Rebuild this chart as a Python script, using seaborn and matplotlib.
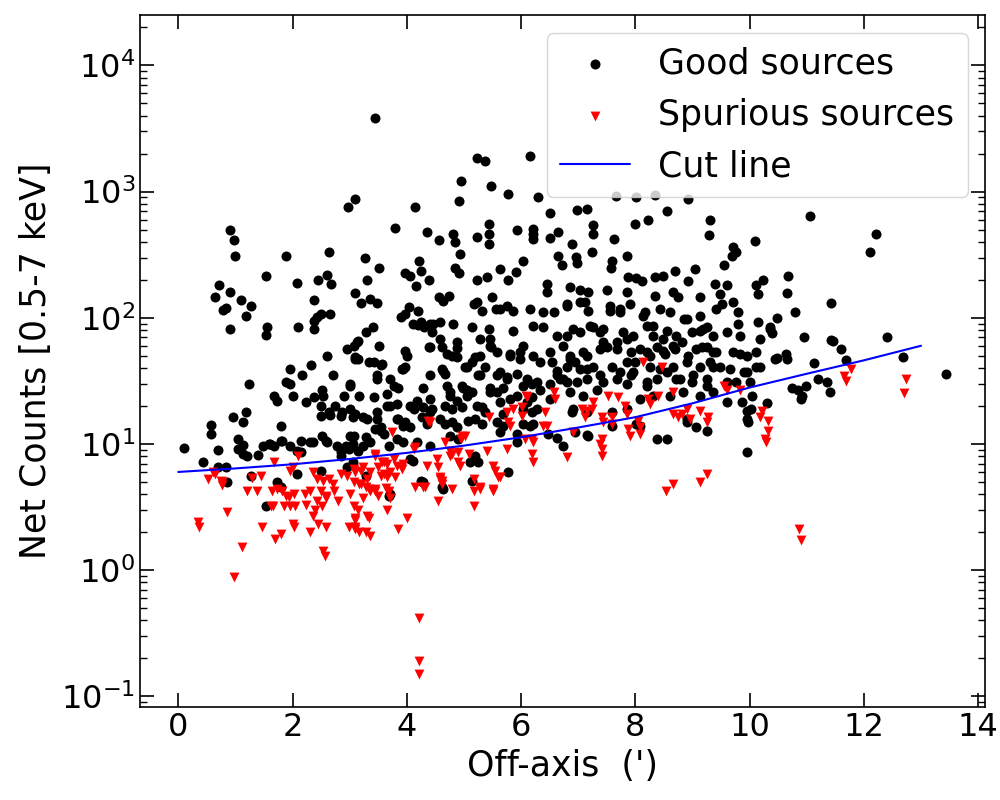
import numpy as np
import pandas as pd
import matplotlib
matplotlib.use('Agg')
import matplotlib.pyplot as plt
import seaborn as sns

# off-axis angle (arcmin), net counts 0.5-7 keV
good_sources = [
    (0.10, 9.3), (0.43, 7.2), (0.58, 14.1), (0.58, 12.0), (0.69, 8.9), (0.69, 6.6), (0.83, 6.6), (0.86, 5.0),
    (0.64, 147), (0.71, 182), (0.83, 120), (0.79, 116), (0.91, 161), (0.91, 81), (0.90, 500), (0.97, 417),
    (1.00, 310), (0.95, 16.3),
    (1.09, 138), (1.19, 104), (1.28, 124), (1.23, 30), (1.53, 215), (1.56, 85), (1.53, 73), (1.88, 310),
    (1.13, 15.0), (1.18, 17.9), (1.04, 11.0), (1.13, 9.8), (1.04, 9.1), (1.14, 8.3), (1.40, 8.2), (1.49, 9.6),
    (1.58, 10.0), (1.67, 9.6), (1.79, 10.6), (1.79, 13.9), (1.27, 5.6), (1.73, 5.0), (1.53, 3.2), (1.67, 24),
    (1.72, 22), (1.88, 31), (1.95, 30), (1.96, 39), (1.21, 8.0), (1.61, 10.0), (1.82, 10.6), (1.79, 4.6),
    (2.07, 189), (2.10, 85), (2.37, 138), (2.37, 81), (2.42, 102), (2.50, 107), (2.45, 200), (2.60, 220),
    (2.68, 185), (2.65, 107), (2.63, 334), (2.60, 50), (2.33, 42), (2.16, 35), (2.71, 35), (2.97, 760),
    (2.37, 94), (2.52, 27), (2.54, 24), (2.90, 24), (3.00, 29), (2.00, 24), (2.23, 21.5), (2.37, 23.6),
    (2.75, 20), (2.87, 17.9), (3.01, 19), (3.05, 16.3), (2.49, 16.7), (2.65, 17), (2.08, 8.8), (2.14, 10.6),
    (2.35, 10.4), (2.52, 11.6), (2.61, 10.4), (2.78, 9.6), (2.84, 8.6), (2.98, 9.1), (3.07, 11.6), (1.96, 9.6),
    (2.49, 20), (2.63, 17.9), (2.93, 9.6), (2.84, 8.0), (2.84, 16.7), (2.31, 10.4), (2.58, 10.6), (2.14, 8.6),
    (3.05, 7.2), (2.96, 6.6), (2.49, 6.1), (2.08, 5.8), (2.96, 57), (3.07, 60), (3.10, 47),
    (3.09, 870), (3.44, 3800), (3.27, 300), (3.09, 158), (3.19, 130), (3.31, 200), (3.36, 141), (3.47, 130),
    (3.52, 250), (3.40, 85), (3.29, 77), (3.13, 64), (3.10, 49), (3.33, 45), (3.43, 45), (3.54, 42),
    (3.47, 35), (3.52, 60), (3.71, 33), (3.77, 29), (3.79, 510), (3.97, 225), (3.96, 107), (3.89, 102),
    (3.14, 65), (3.97, 55), (3.14, 47), (3.57, 43), (3.94, 39), (3.01, 30), (3.48, 33), (3.85, 28),
    (3.16, 24), (3.42, 23.6), (3.66, 25), (3.71, 20), (3.10, 17.3), (3.24, 16.3), (3.48, 15.8), (3.54, 13.6),
    (3.83, 15.8), (3.97, 15.0), (3.01, 11.6), (3.28, 11.3), (3.60, 12.0), (3.83, 11.0), (3.94, 10.4), (3.05, 10.0),
    (3.14, 8.8), (3.36, 10.4), (3.68, 9.6), (3.71, 4.0), (3.24, 9.6), (3.31, 15.8), (3.48, 17.9), (3.66, 20),
    (3.45, 13.1), (3.54, 12.7), (3.83, 20.8), (3.85, 15.8), (3.94, 13.9), (3.28, 5.6), (3.68, 3.9), (3.92, 39),
    (3.96, 41),
    (4.15, 750), (4.35, 480), (4.57, 417), (4.81, 460), (4.85, 395), (4.92, 850), (4.95, 1220), (4.93, 320),
    (4.85, 250), (4.92, 225), (4.22, 280), (4.25, 235), (4.06, 215), (4.16, 180), (4.38, 200), (4.03, 122),
    (4.20, 113), (4.20, 88), (4.30, 85), (4.40, 90), (4.57, 147), (4.64, 137), (4.74, 150), (4.81, 89),
    (4.44, 77), (4.58, 68), (4.38, 59), (4.62, 59), (4.71, 52), (4.79, 50), (4.88, 58), (4.87, 49),
    (4.00, 50), (4.41, 35), (4.64, 38), (4.29, 28), (4.71, 29), (4.76, 26), (4.97, 29), (4.10, 89),
    (4.24, 93), (4.46, 89), (4.58, 93), (4.41, 59), (4.88, 64), (4.62, 39), (4.67, 36), (4.99, 28),
    (4.76, 24), (4.06, 20), (4.18, 22), (4.29, 19.7), (4.41, 22.7), (4.44, 19), (4.67, 20), (4.79, 19),
    (4.88, 22), (4.97, 19.7), (4.06, 13.6), (4.27, 16.3), (4.35, 14.4), (4.58, 15.8), (4.67, 14.4), (4.79, 15),
    (4.88, 13.6), (4.18, 10.4), (4.41, 9.6), (4.76, 11.6), (4.90, 11.0), (4.10, 7.3), (4.24, 5.1), (4.62, 4.6),
    (4.12, 19), (4.41, 17.9), (4.06, 7.6), (4.29, 5.0), (4.64, 4.4),
    (5.22, 440), (5.23, 1850), (5.37, 1750), (5.47, 1100), (5.44, 550), (5.43, 460), (5.44, 385), (5.23, 200),
    (5.40, 210), (5.14, 85), (5.17, 128), (5.23, 133), (5.32, 113), (5.49, 147), (5.44, 81), (5.46, 68),
    (5.48, 59), (5.56, 117), (5.06, 41), (5.14, 45), (5.20, 49), (5.28, 50), (5.37, 41), (5.28, 35),
    (5.06, 27), (5.14, 26), (5.46, 26), (5.77, 960), (5.93, 500), (5.63, 245), (5.77, 200), (5.91, 230),
    (5.63, 118), (5.75, 125), (5.86, 113), (5.86, 79), (5.81, 50), (5.98, 47), (5.63, 37), (5.75, 33),
    (5.28, 68), (5.46, 60), (5.58, 54), (5.81, 52), (5.98, 54), (5.02, 41), (5.25, 35), (5.58, 35),
    (5.75, 34), (5.93, 36), (5.46, 28), (5.58, 26), (5.69, 28), (5.81, 22.7), (5.93, 24), (5.06, 24),
    (5.23, 20), (5.32, 19.7), (5.37, 17.9), (5.63, 21.5), (5.69, 17.3), (5.07, 15.2), (5.20, 15.8), (5.32, 14.4),
    (5.58, 15.0), (5.69, 13.9), (5.20, 8.0), (5.25, 7.2), (5.11, 7.2), (5.93, 10.4), (5.77, 6.0), (5.14, 5.1),
    (5.63, 12.4), (5.93, 12.0),
    (6.16, 1900), (6.30, 900), (6.51, 680), (6.21, 505), (6.21, 460), (6.21, 420), (6.51, 430), (6.65, 480),
    (6.98, 720), (6.04, 280), (6.45, 185), (6.45, 160), (6.16, 118), (6.86, 175), (6.80, 128), (6.57, 111),
    (6.21, 86), (6.39, 85), (6.04, 60), (6.63, 72), (6.80, 72), (6.86, 50), (6.94, 45), (6.51, 54),
    (6.54, 45), (6.21, 50), (6.33, 45), (6.10, 33), (6.28, 31), (6.63, 35), (6.80, 31), (6.89, 385),
    (6.65, 310), (6.72, 260), (6.96, 305), (6.98, 270), (6.39, 111), (6.04, 29), (6.19, 30), (6.33, 27),
    (6.51, 30), (6.63, 38), (6.68, 33), (6.10, 21.5), (6.19, 23.6), (6.04, 19), (6.19, 17.9), (6.28, 19),
    (6.51, 22.7), (6.04, 14.4), (6.16, 13.9), (6.21, 14.4), (6.47, 12.0), (6.63, 11.1), (6.74, 9.6), (6.89, 17.9),
    (6.94, 12.4), (6.80, 125), (6.74, 60), (6.86, 47), (6.74, 33), (6.98, 31), (6.86, 26), (6.91, 19),
    (6.91, 81), (6.80, 41),
    (7.15, 730), (7.66, 930), (7.26, 540), (7.26, 460), (7.24, 330), (7.63, 420), (7.86, 310), (7.60, 280),
    (7.58, 250), (7.87, 210), (7.03, 165), (7.17, 160), (7.12, 133), (7.17, 113), (7.50, 165), (7.85, 160),
    (7.90, 128), (7.03, 77), (7.26, 85), (7.44, 81), (7.56, 113), (7.73, 111), (7.38, 57), (7.50, 59),
    (7.68, 64), (7.85, 68), (7.93, 54), (7.99, 45), (7.15, 50), (7.15, 39), (7.38, 35), (7.73, 37),
    (7.93, 35), (7.15, 11.8), (7.60, 13.9), (7.03, 133), (7.56, 125), (7.73, 118), (7.21, 86), (7.38, 77),
    (7.78, 77), (7.96, 72), (7.08, 54), (7.44, 64), (7.68, 57), (7.03, 39), (7.26, 41), (7.60, 41),
    (7.85, 45), (7.96, 37), (7.15, 33), (7.44, 31), (7.68, 33), (7.85, 30), (7.08, 24), (7.33, 27),
    (7.15, 17.9), (7.60, 17.9), (7.85, 19), (7.17, 11.6),
    (8.01, 910), (8.34, 940), (8.92, 875), (7.99, 550), (8.22, 600), (8.55, 700), (8.02, 205), (8.12, 195),
    (8.34, 210), (8.48, 215), (8.69, 235), (8.92, 197), (8.34, 150), (8.66, 160), (8.74, 147), (8.17, 111),
    (8.20, 86), (8.31, 86), (8.55, 79), (8.86, 98), (8.20, 54), (8.38, 59), (8.52, 52), (8.66, 60),
    (8.81, 64), (8.92, 50), (8.55, 37), (8.72, 33), (8.20, 29), (8.55, 11.0), (8.38, 11.0), (8.02, 14.4),
    (8.90, 15.8), (8.13, 104), (8.43, 118), (8.61, 111), (8.90, 98), (8.31, 72), (8.48, 68), (8.72, 72),
    (8.08, 57), (8.25, 50), (8.48, 55), (8.69, 57), (8.25, 41), (8.43, 39), (8.66, 41), (8.90, 45),
    (8.20, 31), (8.38, 33), (8.78, 33), (8.08, 22.7), (8.31, 24), (8.61, 24), (8.84, 26), (8.08, 13.9),
    (8.90, 15.0),
    (9.04, 245), (9.30, 600), (9.29, 455), (9.71, 365), (9.77, 335), (9.69, 310), (9.56, 260), (9.39, 185),
    (9.60, 183), (9.13, 147), (9.48, 155), (9.51, 128), (9.79, 111), (9.79, 89), (9.13, 79), (9.25, 85),
    (9.60, 77), (9.07, 57), (9.16, 59), (9.36, 41), (9.01, 35), (9.25, 29), (9.60, 31), (9.91, 37),
    (9.83, 52), (9.71, 54), (9.36, 54), (9.60, 21.5), (9.95, 18.3), (9.98, 15.0), (9.95, 8.6), (9.25, 12.7),
    (9.07, 13.6), (9.13, 104), (9.42, 118), (9.71, 133), (9.00, 77), (9.18, 81), (9.36, 72), (9.83, 72),
    (9.25, 59), (9.42, 54), (9.95, 50), (9.13, 41), (9.30, 45), (9.48, 41), (9.65, 39), (9.95, 37),
    (9.00, 31), (9.25, 33), (9.77, 31), (9.13, 24), (9.36, 26), (9.86, 21.5), (9.95, 15.8),
    (10.10, 405), (10.12, 183), (10.23, 200), (10.15, 155), (10.67, 215), (10.65, 157), (10.79, 111), (11.43, 131),
    (10.15, 93), (10.48, 100), (10.35, 85), (10.40, 76), (12.40, 70), (11.43, 67), (11.60, 57), (10.95, 70),
    (10.63, 52), (10.65, 47), (10.48, 48), (11.12, 44), (11.69, 46), (12.69, 49), (13.44, 36), (11.19, 33),
    (11.36, 31), (11.40, 26), (10.75, 28), (10.91, 24), (10.84, 27), (10.12, 41), (11.05, 640), (12.22, 465),
    (12.10, 335), (10.30, 21), (10.90, 22.7), (10.05, 24), (10.00, 31), (10.18, 68), (10.35, 81), (10.12, 54),
    (10.44, 47), (10.18, 41), (10.03, 19), (11.46, 65), (10.98, 29),
]

spurious_sources = [
    (0.34, 2.4), (0.36, 2.2), (0.52, 5.3), (0.60, 6.0), (0.65, 5.8), (0.74, 5.1), (0.77, 4.7), (0.86, 2.9),
    (0.97, 0.88), (1.12, 1.52), (1.21, 4.2), (1.29, 5.4), (1.38, 4.2), (1.44, 5.6), (1.47, 2.2), (1.64, 4.2),
    (1.63, 3.2), (1.66, 3.2), (1.70, 1.76), (1.79, 1.93), (1.67, 7.2), (1.73, 4.4), (1.82, 4.2), (1.88, 3.9),
    (1.93, 3.8), (2.02, 4.0), (1.85, 3.2), (1.96, 3.2), (2.05, 3.2), (2.00, 2.3), (2.02, 2.2), (1.96, 6.1),
    (2.00, 6.6), (2.10, 8.0), (2.21, 4.0), (2.23, 3.3), (2.31, 2.0), (2.35, 2.7), (2.40, 3.0), (2.35, 6.0),
    (2.43, 5.3), (2.54, 5.1), (2.31, 4.2), (2.49, 4.2), (2.58, 3.9), (2.43, 3.5), (2.52, 3.2), (2.58, 3.7),
    (2.45, 2.3), (2.54, 1.41), (2.56, 1.29), (2.58, 2.2), (2.63, 5.3), (2.70, 4.8), (2.72, 4.2), (2.80, 3.5),
    (2.84, 5.8), (2.96, 5.6), (3.01, 4.0), (3.07, 3.2), (2.98, 2.2), (3.10, 2.2), (3.16, 2.0), (3.10, 2.6),
    (3.07, 6.3), (3.19, 6.1), (3.24, 6.6), (3.31, 5.3), (3.16, 4.8), (3.28, 4.6), (3.36, 4.2), (3.45, 4.4),
    (3.24, 3.7), (3.31, 2.7), (3.33, 2.6), (3.28, 2.0), (3.35, 1.86), (3.45, 8.3), (3.54, 5.6), (3.66, 5.5),
    (3.80, 5.5), (3.63, 4.5), (3.68, 4.2), (3.50, 3.9), (3.66, 3.0), (3.74, 12.4), (3.57, 7.2), (3.66, 6.9),
    (3.83, 6.7), (3.94, 6.9), (3.85, 2.1), (4.01, 2.6), (4.15, 4.6), (4.22, 0.42), (4.22, 0.19), (4.22, 0.15),
    (4.31, 4.6), (4.35, 6.7), (4.15, 9.4), (4.41, 15.0), (4.53, 7.6), (4.55, 6.6), (4.55, 3.5), (4.58, 5.5),
    (4.62, 5.1), (4.79, 4.4), (4.76, 8.0), (4.97, 11.6), (4.90, 8.6), (5.08, 8.3), (5.17, 5.3), (5.17, 3.2),
    (5.28, 4.6), (5.17, 4.2), (5.40, 8.8), (5.43, 16.3), (5.51, 4.4), (5.51, 6.7), (5.60, 5.5), (0.77, 5.0),
    (4.37, 15.2), (4.67, 10.4), (4.76, 8.8), (4.79, 8.3), (4.94, 11.0), (5.02, 11.6), (4.90, 7.2), (4.93, 6.7),
    (5.54, 6.1), (5.63, 5.5), (5.75, 9.1), (5.75, 17.9), (5.86, 19.0), (6.01, 19.7), (5.77, 15.0), (5.80, 14.0),
    (6.01, 16.7), (6.10, 23.6), (6.19, 11.0), (6.21, 10.4), (6.19, 8.3), (6.21, 7.2), (6.42, 17.9), (6.45, 13.9),
    (6.57, 26), (6.60, 22.7), (6.80, 7.9), (4.58, 5.3), (4.62, 4.8), (4.29, 4.6), (5.28, 4.4), (5.51, 4.2),
    (3.71, 3.7), (3.10, 6.0), (3.36, 6.0), (3.50, 6.6), (3.60, 5.8), (3.71, 6.0), (3.92, 6.3), (3.07, 5.0),
    (3.19, 4.8), (3.33, 4.4), (3.45, 4.2), (3.14, 3.0), (3.10, 2.5), (3.10, 2.1), (3.45, 8.0), (3.60, 7.2),
    (3.77, 7.6), (4.12, 9.1),
    (8.13, 45), (8.46, 41), (7.26, 21.5), (7.06, 19.0), (7.15, 18.3), (7.24, 19.0), (7.12, 16.3), (7.52, 24),
    (7.70, 23.6), (7.82, 20), (7.85, 17.3), (8.22, 22.7), (8.25, 20.7), (8.40, 24), (8.66, 26), (7.42, 16.3),
    (7.44, 15.0), (7.60, 16.3), (7.60, 14.4), (8.04, 15.2), (8.08, 13.6), (7.87, 13.1), (7.90, 11.6), (6.91, 12.4),
    (7.42, 11.0), (7.38, 10.0), (7.42, 9.1), (7.42, 8.0), (8.08, 12.0), (8.66, 17.3), (8.75, 16.3), (8.81, 17.3),
    (8.90, 19.0), (8.95, 15.8), (9.13, 18.3), (9.27, 16.3), (9.25, 15.0), (9.56, 29), (9.60, 27), (9.83, 27),
    (10.21, 18.3), (10.18, 16.3), (10.32, 15.2), (10.32, 12.7), (10.27, 11.0), (10.28, 10.4), (8.53, 4.2), (8.66, 4.8),
    (9.13, 5.0), (9.25, 5.8), (11.66, 34.5), (11.78, 39), (11.68, 31.5), (12.73, 33), (12.71, 25.4), (10.86, 2.1),
    (10.90, 1.73), (6.07, 10.9), (6.39, 13.9), (6.08, 24),
]

cut_x = [0, 1, 2, 3, 4, 5, 6, 7, 8, 9, 10, 11, 12, 13]
cut_y = [6.0, 6.4, 6.9, 7.6, 8.5, 9.7, 11.3, 13.5, 16.3, 21, 28, 36, 46, 60]

good = pd.DataFrame(good_sources, columns=['offaxis', 'counts'])
spur = pd.DataFrame(spurious_sources, columns=['offaxis', 'counts'])
cut = pd.DataFrame({'offaxis': cut_x, 'counts': cut_y})

sns.set_style('ticks')
plt.rcParams['font.family'] = ['DejaVu Sans']
plt.rcParams['text.color'] = 'black'
plt.rcParams['axes.labelcolor'] = 'black'
plt.rcParams['axes.edgecolor'] = 'black'
plt.rcParams['xtick.color'] = 'black'
plt.rcParams['ytick.color'] = 'black'
plt.rcParams['xtick.direction'] = 'in'
plt.rcParams['ytick.direction'] = 'in'
plt.rcParams['xtick.top'] = True
plt.rcParams['ytick.right'] = True

fig = plt.figure(figsize=(10, 8), dpi=100)
ax = fig.add_axes([0.14, 0.116, 0.845, 0.865])

sns.scatterplot(x='offaxis', y='counts', data=good, ax=ax, color='black', marker='o',
                s=52, linewidth=0, label='Good sources')
sns.scatterplot(x='offaxis', y='counts', data=spur, ax=ax, color='red', marker='v',
                s=50, linewidth=0, label='Spurious sources')
sns.lineplot(x='offaxis', y='counts', data=cut, ax=ax, color='blue', lw=1.5, label='Cut line')

ax.set_yscale('log')
ax.set_ylim(0.082, 2.5e4)
ax.set_xlim(-0.67, 14.12)
ax.set_xticks([0, 2, 4, 6, 8, 10, 12, 14])
ax.set_xlabel("Off-axis  (')", fontsize=25)
ax.set_ylabel('Net Counts [0.5-7 keV]', fontsize=25, labelpad=6)
ax.tick_params(which='major', length=10, width=1.2, labelsize=23)
ax.tick_params(which='minor', length=5, width=1.0)
ax.tick_params(axis='x', which='minor', bottom=False, top=False)
for sp in ax.spines.values():
    sp.set_linewidth(1.2)

leg = ax.legend(loc='upper right', fontsize=25, frameon=True)
leg.get_frame().set_edgecolor('0.8')

plt.savefig('out.png', dpi=100)
